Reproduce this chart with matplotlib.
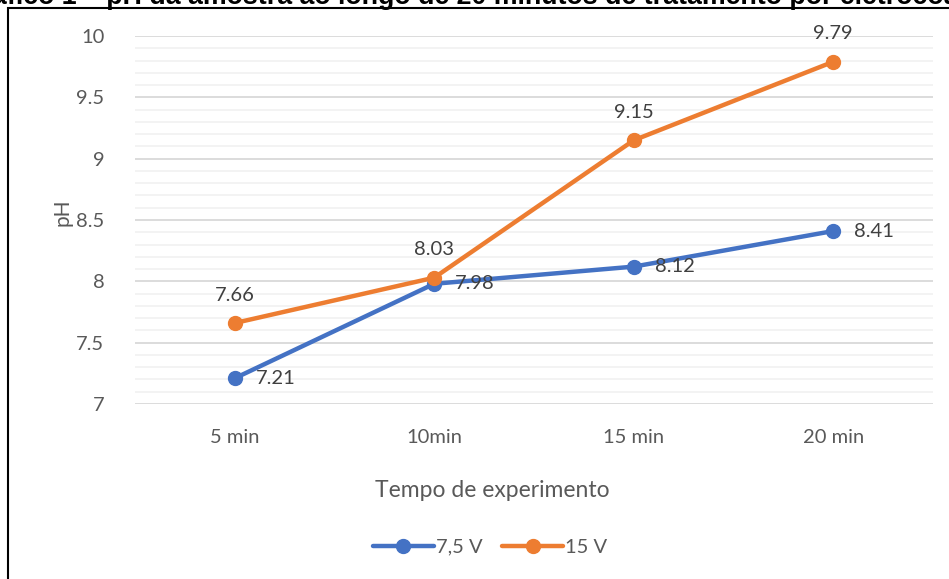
import matplotlib
matplotlib.use("Agg")
import matplotlib.pyplot as plt
from matplotlib.ticker import MultipleLocator
from matplotlib.patches import Rectangle
from matplotlib.lines import Line2D

categories = ["5 min", "10min", "15 min", "20 min"]
ph_7_5v = [7.21, 7.98, 8.12, 8.41]
ph_15v = [7.66, 8.03, 9.15, 9.79]
series_names = ["7,5 V", "15 V"]

blue = "#4472C4"
orange = "#ED7D31"
grey_text = "#595959"
label_text = "#404040"

plt.rcParams["font.family"] = ["Lato", "DejaVu Sans"]

fig = plt.figure(figsize=(9.49, 5.79), dpi=100)
W, H = 949, 579

# outer frame of the chart object
fig.patches.append(Rectangle((8 / W, -0.05), 1.1, 1 - 8 / H + 0.05,
                             transform=fig.transFigure, fill=False,
                             edgecolor="black", linewidth=1.5, zorder=0))

# caption line above the chart (partly outside the canvas)
fig.text(-8 / W, 1 - 4 / H,
         "áfico 1 – pH da amostra ao longo de 20 minutos de tratamento por eletrocoagulação",
         family=["Liberation Sans", "DejaVu Sans"], fontweight="bold",
         fontsize=19.3, color="black", ha="left", va="baseline")

ax = fig.add_axes([135 / W, 1 - 404 / H, (933 - 135) / W, (404 - 36) / H])
x = list(range(len(categories)))

ax.set_xlim(-0.5, 3.5)
ax.set_ylim(7, 10)
ax.yaxis.set_major_locator(MultipleLocator(0.5))
ax.yaxis.set_minor_locator(MultipleLocator(0.1))
ax.set_yticks([7, 7.5, 8, 8.5, 9, 9.5, 10])
ax.set_yticklabels(["7", "7.5", "8", "8.5", "9", "9.5", "10"])
ax.set_xticks(x)
ax.set_xticklabels(categories)

ax.grid(which="major", axis="y", color="#D9D9D9", linewidth=1.3, zorder=0)
ax.grid(which="minor", axis="y", color="#F2F2F2", linewidth=1.3, zorder=0)
for s in ax.spines.values():
    s.set_visible(False)
ax.tick_params(axis="both", which="both", length=0, labelsize=14.5,
               labelcolor=grey_text)
ax.tick_params(axis="y", pad=22)
ax.tick_params(axis="x", pad=18)

ax.plot(x, ph_7_5v, color=blue, linewidth=3.2, marker="o", markersize=10,
        solid_capstyle="round", zorder=3, clip_on=False)
ax.plot(x, ph_15v, color=orange, linewidth=3.2, marker="o", markersize=10,
        solid_capstyle="round", zorder=4, clip_on=False)

for xi, v in zip(x, ph_7_5v):
    ax.annotate(f"{v:.2f}", (xi, v), xytext=(15, 0), textcoords="offset points",
                ha="left", va="center", fontsize=14.5, color=label_text)
for xi, v in zip(x, ph_15v):
    ax.annotate(f"{v:.2f}", (xi, v), xytext=(0, 14), textcoords="offset points",
                ha="center", va="bottom", fontsize=14.5, color=label_text)

ax.set_ylabel("pH", fontsize=15, color=grey_text)
ax.yaxis.set_label_coords(-62 / (933 - 135), (404 - 212) / (404 - 36))
ax.set_xlabel("Tempo de experimento", fontsize=16.5, color=grey_text)
ax.xaxis.set_label_coords(0.448, -(480 - 404) / (404 - 36))

handles = [Line2D([], [], color=blue, linewidth=3.2, marker="o", markersize=10,
                  solid_capstyle="round"),
           Line2D([], [], color=orange, linewidth=3.2, marker="o", markersize=10,
                  solid_capstyle="round")]
leg = fig.legend(handles, series_names, loc="center", bbox_to_anchor=(490 / W, 1 - 547 / H),
                 ncol=2, frameon=False, fontsize=14.5, handlelength=3.0,
                 handletextpad=0.1, columnspacing=1.0)
for t in leg.get_texts():
    t.set_color(grey_text)

fig.savefig("out.png", dpi=100)
